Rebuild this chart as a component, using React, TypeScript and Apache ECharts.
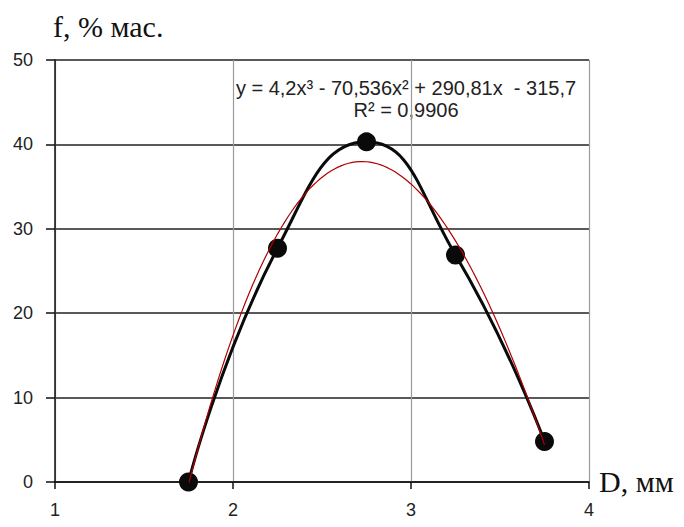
import React, { useEffect, useRef } from "react";
import * as echarts from "echarts";

// Measured particle size D (mm) and mass fraction f (%)
const diameters = [1.75, 2.25, 2.75, 3.25, 3.75];
const fractions = [0, 27.7, 40.3, 26.9, 4.8];

// Cubic trend coefficients (a3, a2, a1, a0) as printed in the equation label
const trendCoefficients = [4.2, -70.536, 290.81, -315.7];
const trendLabel = "y = 4,2x³ - 70,536x² + 290,81x  - 315,7";
const rSquaredLabel = "R² = 0,9906";

const xTicks = [1, 2, 3, 4];
const yTicks = [0, 10, 20, 30, 40, 50];

function trendValue(x: number): number {
  const [a3, a2, a1, a0] = trendCoefficients;
  return ((a3 * x + a2) * x + a1) * x + a0;
}

// Trend curve sampled along the span of the measurements
function trendPoints(): number[][] {
  const pts: number[][] = [];
  const x0 = diameters[0];
  const x1 = diameters[diameters.length - 1];
  const steps = 100;
  for (let i = 0; i <= steps; i++) {
    const x = x0 + ((x1 - x0) * i) / steps;
    pts.push([x, trendValue(x)]);
  }
  return pts;
}

export default function App() {
  const ref = useRef<HTMLDivElement>(null);

  useEffect(() => {
    if (!ref.current) return;
    const chart = echarts.init(ref.current, undefined, { renderer: "svg" });
    const labelFont = "'Liberation Sans', Arial, sans-serif";
    const serif = "'Liberation Serif', 'Times New Roman', serif";

    chart.setOption({
      animation: false,
      backgroundColor: "#ffffff",
      grid: { left: 47, right: 87, top: 52, bottom: 32, containLabel: false },
      xAxis: {
        type: "value",
        min: xTicks[0],
        max: xTicks[xTicks.length - 1],
        interval: 1,
        axisLine: { show: true, onZero: false, lineStyle: { color: "#111", width: 1.5 } },
        axisTick: { show: true, inside: false, length: 7, lineStyle: { color: "#111", width: 1.5 } },
        axisLabel: { color: "#222", fontSize: 18, fontFamily: labelFont, margin: 19 },
        splitLine: { show: true, lineStyle: { color: "#9a9a9a", width: 1.2 } },
      },
      yAxis: {
        type: "value",
        min: yTicks[0],
        max: yTicks[yTicks.length - 1],
        interval: 10,
        axisLine: { show: true, lineStyle: { color: "#111", width: 1.5 } },
        axisTick: { show: true, inside: false, length: 9, lineStyle: { color: "#111", width: 1.5 } },
        axisLabel: { color: "#222", fontSize: 18, fontFamily: labelFont, margin: 22 },
        splitLine: { show: true, lineStyle: { color: "#222", width: 1.5 } },
      },
      series: [
        {
          type: "line",
          data: diameters.map((d, i) => [d, fractions[i]]),
          smooth: 0.5,
          symbol: "circle",
          symbolSize: 19,
          itemStyle: { color: "#0a0a0a" },
          lineStyle: { color: "#0a0a0a", width: 3 },
          z: 2,
        },
        {
          type: "line",
          data: trendPoints(),
          symbol: "none",
          lineStyle: { color: "#b00000", width: 1.2 },
          z: 3,
        },
      ],
      graphic: [
        {
          type: "text",
          left: 45,
          top: 3,
          style: { text: "f, % мас.", font: `30px ${serif}`, fill: "#111" },
        },
        {
          type: "text",
          left: 591,
          top: 458,
          style: { text: "D, мм", font: `30px ${serif}`, fill: "#111" },
        },
        {
          type: "text",
          x: 398,
          y: 80,
          style: {
            text: trendLabel,
            font: `20px ${labelFont}`,
            fill: "#222",
            align: "center",
            verticalAlign: "middle",
          },
        },
        {
          type: "text",
          x: 398,
          y: 102,
          style: {
            text: rSquaredLabel,
            font: `20px ${labelFont}`,
            fill: "#222",
            align: "center",
            verticalAlign: "middle",
          },
        },
      ],
    });

    return () => chart.dispose();
  }, []);

  return <div ref={ref} style={{ width: 668, height: 511 }} />;
}
